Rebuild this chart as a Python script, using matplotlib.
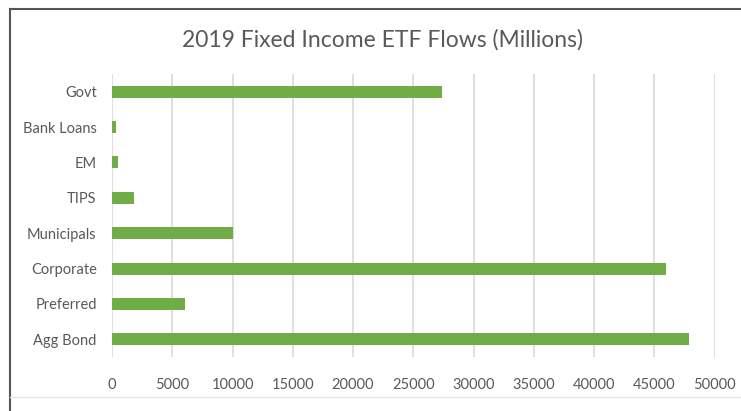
import matplotlib.pyplot as plt
import matplotlib.ticker as ticker
from matplotlib.lines import Line2D

# data, bottom to top
categories = ["Agg Bond", "Preferred", "Corporate", "Municipals", "TIPS", "EM", "Bank Loans", "Govt"]
flows = [47900, 6050, 46000, 10000, 1850, 480, 350, 27350]
x_ticks = list(range(0, 50001, 5000))

bar_color = "#70AD47"
text_color = "#595959"
grid_color = "#D9D9D9"

plt.rcParams['font.family'] = ['Lato', 'DejaVu Sans']

fig = plt.figure(figsize=(7.41, 4.11), dpi=100)
ax = fig.add_axes([112 / 741, 1 - 357 / 411, (714.5 - 112) / 741, (357 - 74) / 411])

ax.barh(range(len(categories)), flows, height=0.34, color=bar_color, zorder=3)

ax.set_xlim(0, 50000)
ax.set_ylim(-0.5, len(categories) - 0.5)
ax.set_xticks(x_ticks)
ax.xaxis.set_major_formatter(ticker.FuncFormatter(lambda v, pos: str(int(v))))
ax.set_yticks(range(len(categories)))
ax.set_yticklabels(categories)
ax.tick_params(axis='both', length=0, labelsize=10.5, colors=text_color)
ax.tick_params(axis='x', pad=15)
ax.tick_params(axis='y', pad=11)

ax.grid(True, axis='x', color=grid_color, linewidth=1.2, zorder=0)
for s in ax.spines.values():
    s.set_visible(False)

fig.text(382 / 741, 1 - 40 / 411, "2019 Fixed Income ETF Flows (Millions)",
         ha='center', va='center', fontsize=16.5, color=text_color)

# chart frame
fig.add_artist(Line2D([10 / 741, 10 / 741], [0, 1 - 9 / 411], color="#555555", linewidth=1.5))
fig.add_artist(Line2D([10 / 741, 1], [1 - 9 / 411, 1 - 9 / 411], color="#555555", linewidth=1.5))
fig.add_artist(Line2D([10 / 741, 1], [1 - 397 / 411, 1 - 397 / 411], color="#E6E6E6", linewidth=1))

fig.savefig("out.png", dpi=100)
